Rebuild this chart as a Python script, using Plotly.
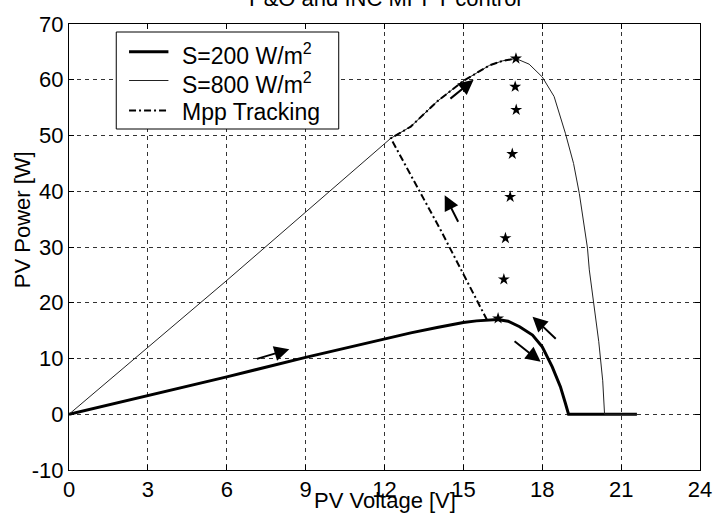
import plotly.graph_objects as go

# ---------------- data ----------------
v_200 = [0, 3, 6, 9, 12, 13, 14, 14.5, 15, 15.5, 15.9, 16.3, 16.7, 17.14, 17.63, 18.0, 18.38, 18.69, 18.88, 19.0, 21.6]
p_200 = [0, 3.3, 6.7, 10.2, 13.6, 14.6, 15.55, 16.0, 16.45, 16.75, 16.92, 17.0, 16.7, 15.7, 14.2, 12.1, 8.5, 4.95, 1.97, 0, 0]

v_800 = [0, 3, 6, 12.24, 13, 14, 15, 16, 16.5, 17.0, 17.5, 18.0, 18.45, 18.88, 19.19, 19.41, 19.57,
         19.72, 19.79, 19.95, 20.15, 20.3, 20.37, 21.6]
p_800 = [0, 12.0, 24.0, 49.5, 51.6, 56.1, 59.8, 62.6, 63.4, 63.8, 62.8, 60.5, 57.0, 50.4, 45.0, 39.6, 34.3,
         29.8, 25.9, 20.0, 13.0, 6.0, 0, 0]

v_mpp = [15.9, 14.14, 12.24, 13, 14, 15, 16, 16.5, 17.0]
p_mpp = [16.9, 33.0, 49.5, 51.6, 56.1, 59.8, 62.6, 63.4, 63.8]

v_star = [17.0, 16.97, 17.01, 16.86, 16.78, 16.6, 16.54, 16.32]
p_star = [63.8, 58.75, 54.6, 46.7, 39.0, 31.6, 24.2, 17.2]

x_ticks = [0, 3, 6, 9, 12, 15, 18, 21, 24]
y_ticks = [-10, 0, 10, 20, 30, 40, 50, 60, 70]

series_names = ["S=200 W/m<sup>2</sup>", "S=800 W/m<sup>2</sup>", "Mpp Tracking"]

# arrows: (tail V, tail P, head V, head P)
arrows = [
    (7.09, 9.86, 8.38, 11.66),
    (14.45, 56.4, 15.39, 60.0),
    (14.83, 34.25, 14.29, 39.3),
    (18.57, 13.3, 17.63, 17.5),
    (16.89, 13.3, 17.94, 9.4),
]

title_text = "P&O and INC MPPT control"
FONT = "Liberation Sans, Arial, Helvetica, sans-serif"

# figure geometry (pixels)
W, H = 724, 520
ML, MR, MT, MB = 69, 14, 24, 50
PW, PH = W - ML - MR, H - MT - MB


def px_x(px):
    return (px - ML) / PW


def px_y(py):
    return (H - MB - py) / PH


styles = [
    dict(color="black", width=3),
    dict(color="#222222", width=1),
    dict(color="black", width=2, dash="7px,3px,2px,3px"),
]

fig = go.Figure()
fig.add_trace(go.Scatter(x=v_200, y=p_200, mode="lines", name=series_names[0], line=styles[0]))
fig.add_trace(go.Scatter(x=v_800, y=p_800, mode="lines", name=series_names[1], line=styles[1]))
fig.add_trace(go.Scatter(x=v_mpp, y=p_mpp, mode="lines", name=series_names[2], line=styles[2]))
fig.add_trace(go.Scatter(x=v_star, y=p_star, mode="markers", name="*",
                         marker=dict(symbol="star", size=9, color="black")))

for tx, ty, hx, hy in arrows:
    fig.add_annotation(x=hx, y=hy, ax=tx, ay=ty, xref="x", yref="y", axref="x", ayref="y",
                       text="", showarrow=True, arrowhead=2, arrowsize=1.5, arrowwidth=2,
                       arrowcolor="black")

# legend box (drawn by hand to match the reference spacing)
fig.add_shape(type="rect", xref="paper", yref="paper",
              x0=px_x(117), x1=px_x(343), y0=px_y(129), y1=px_y(32),
              line=dict(color="black", width=1), fillcolor="white", layer="above")
row_y = [51.7, 80.5, 110.5]
for name, st, ry in zip(series_names, styles, row_y):
    fig.add_shape(type="line", xref="paper", yref="paper",
                  x0=px_x(130), x1=px_x(170), y0=px_y(ry), y1=px_y(ry),
                  line=st, layer="above")
    fig.add_annotation(text=name, xref="paper", yref="paper", x=px_x(182), y=px_y(ry + 2),
                       xanchor="left", yanchor="middle", showarrow=False,
                       font=dict(family=FONT, size=23, color="black"))

fig.add_annotation(text=title_text, xref="paper", yref="paper", x=0.5, y=1, yanchor="bottom",
                   yshift=11, showarrow=False, font=dict(family=FONT, size=22, color="black"))
fig.add_annotation(text="PV Voltage [V]", xref="paper", yref="paper", x=0.5, y=0, yanchor="middle",
                   yshift=-30, showarrow=False, font=dict(family=FONT, size=22, color="black"))
fig.add_annotation(text="PV Power [W]", xref="paper", yref="paper", x=0, y=0.56, xanchor="center",
                   xshift=-47, textangle=-90, showarrow=False,
                   font=dict(family=FONT, size=22, color="black"))

axis_common = dict(showline=True, linecolor="black", linewidth=1, mirror="allticks",
                   ticks="inside", ticklen=5, tickcolor="black",
                   showgrid=True, gridcolor="#333333", gridwidth=1, griddash="4px,4px",
                   zeroline=False, tickfont=dict(family=FONT, size=22, color="black"))

fig.update_xaxes(range=[0, 24], tickvals=x_ticks, ticktext=[str(t) for t in x_ticks], **axis_common)
fig.update_yaxes(range=[-10, 70], tickvals=y_ticks, ticktext=[str(t) for t in y_ticks], **axis_common)

fig.update_layout(
    width=W, height=H,
    margin=dict(l=ML, r=MR, t=MT, b=MB),
    paper_bgcolor="white", plot_bgcolor="white",
    font=dict(family=FONT, size=22, color="black"),
    showlegend=False,
)

fig.write_html("out.html")
